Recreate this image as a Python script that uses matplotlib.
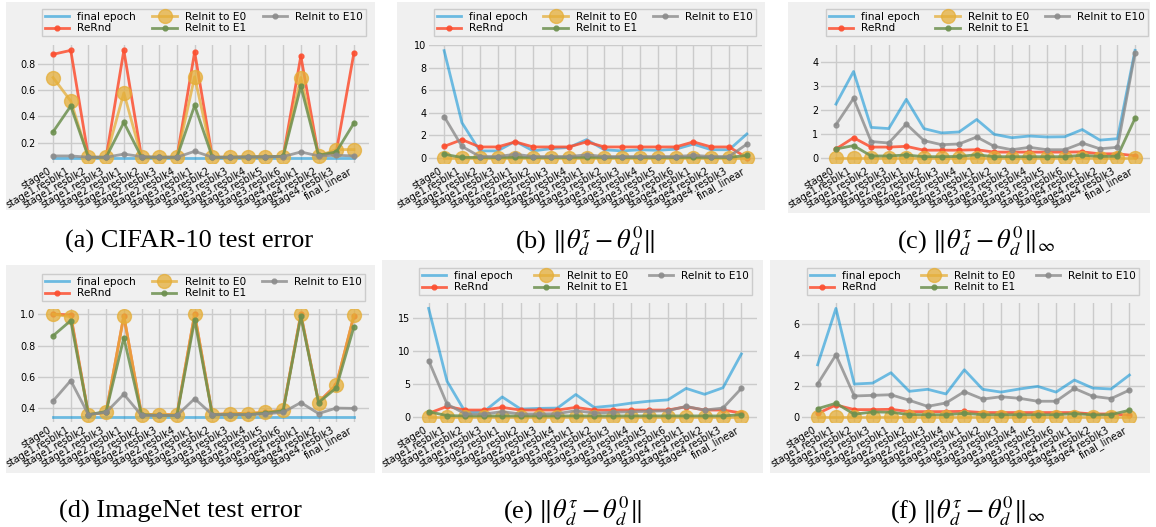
import matplotlib
matplotlib.use("Agg")
import matplotlib.pyplot as plt
from matplotlib.patches import Rectangle

W, H = 1156, 527

layers = ["stage0", "stage1.resblk1", "stage1.resblk2", "stage1.resblk3",
          "stage2.resblk1", "stage2.resblk2", "stage2.resblk3", "stage2.resblk4",
          "stage3.resblk1", "stage3.resblk2", "stage3.resblk3", "stage3.resblk4",
          "stage3.resblk5", "stage3.resblk6", "stage4.resblk1", "stage4.resblk2",
          "stage4.resblk3", "final_linear"]

# (a) CIFAR-10 test error
a_final = [0.087] * 18
a_rernd = [0.87, 0.90, 0.09, 0.09, 0.90, 0.09, 0.09, 0.09, 0.888, 0.09,
           0.09, 0.092, 0.093, 0.095, 0.857, 0.10, 0.13, 0.882]
a_e0 = [0.694, 0.516, 0.089, 0.089, 0.578, 0.09, 0.09, 0.09, 0.70, 0.09,
        0.09, 0.092, 0.093, 0.095, 0.694, 0.10, 0.148, 0.148]
a_e1 = [0.282, 0.478, 0.09, 0.09, 0.354, 0.09, 0.09, 0.09, 0.483, 0.09,
        0.09, 0.092, 0.093, 0.097, 0.627, 0.105, 0.13, 0.349]
a_e10 = [0.10, 0.10, 0.09, 0.09, 0.114, 0.095, 0.09, 0.09, 0.135, 0.09,
         0.09, 0.092, 0.093, 0.095, 0.13, 0.10, 0.105, 0.10]

# (b) ||theta - theta0||
b_final = [9.5, 3.1, 0.6, 0.6, 1.45, 0.6, 0.8, 0.9, 1.6, 0.7,
           0.6, 0.7, 0.65, 0.75, 1.2, 0.7, 0.7, 2.1]
b_rernd = [1.0, 1.6, 0.95, 0.95, 1.4, 0.95, 0.95, 0.95, 1.4, 0.95,
           0.95, 0.95, 0.95, 0.95, 1.4, 0.95, 0.95, 0.0]
b_e0 = [0.0] * 18
b_e1 = [0.3, 0.02, 0.02, 0.02, 0.03, 0.02, 0.02, 0.02, 0.03, 0.02,
        0.02, 0.02, 0.02, 0.02, 0.03, 0.02, 0.02, 0.2]
b_e10 = [3.65, 1.0, 0.1, 0.1, 0.3, 0.1, 0.1, 0.1, 0.25, 0.1,
         0.1, 0.1, 0.1, 0.1, 0.2, 0.1, 0.1, 1.2]

# (c) ||theta - theta0||_inf
c_final = [2.23, 3.59, 1.26, 1.21, 2.43, 1.21, 1.03, 1.07, 1.59, 0.97,
           0.83, 0.90, 0.86, 0.87, 1.17, 0.73, 0.79, 4.47]
c_rernd = [0.36, 0.83, 0.44, 0.44, 0.47, 0.31, 0.31, 0.31, 0.33, 0.23,
           0.23, 0.23, 0.23, 0.23, 0.24, 0.16, 0.16, 0.08]
c_e0 = [0.0] * 18
c_e1 = [0.36, 0.50, 0.07, 0.07, 0.11, 0.04, 0.04, 0.05, 0.12, 0.04,
        0.04, 0.04, 0.04, 0.04, 0.10, 0.05, 0.06, 1.64]
c_e10 = [1.37, 2.47, 0.67, 0.61, 1.40, 0.71, 0.54, 0.57, 0.86, 0.47,
         0.33, 0.43, 0.33, 0.33, 0.61, 0.37, 0.43, 4.36]

# (d) ImageNet test error
d_final = [0.346] * 18
d_rernd = [1.0, 0.995, 0.36, 0.375, 0.99, 0.36, 0.36, 0.36, 1.0, 0.36,
           0.367, 0.367, 0.375, 0.39, 1.0, 0.44, 0.55, 0.99]
d_e0 = [1.0, 0.983, 0.36, 0.375, 0.99, 0.36, 0.36, 0.36, 1.0, 0.36,
        0.367, 0.367, 0.375, 0.39, 1.0, 0.437, 0.546, 0.994]
d_e1 = [0.862, 0.959, 0.36, 0.38, 0.85, 0.36, 0.355, 0.355, 0.963, 0.36,
        0.36, 0.36, 0.37, 0.385, 0.986, 0.437, 0.53, 0.92]
d_e10 = [0.447, 0.577, 0.36, 0.375, 0.49, 0.355, 0.355, 0.355, 0.462, 0.36,
         0.36, 0.36, 0.365, 0.375, 0.437, 0.367, 0.402, 0.40]

# (e) ||theta - theta0||
e_final = [16.5, 5.4, 0.65, 0.75, 3.0, 1.15, 1.25, 1.3, 3.37, 1.4,
           1.65, 2.05, 2.35, 2.55, 4.3, 3.4, 4.4, 9.55]
e_rernd = [0.5, 1.55, 1.0, 1.0, 1.4, 1.0, 1.0, 1.0, 1.4, 1.0,
           1.0, 1.0, 1.0, 1.0, 1.5, 1.0, 1.0, 0.55]
e_e0 = [0.0] * 18
e_e1 = [0.75, 0.15, 0.1, 0.1, 0.1, 0.1, 0.1, 0.1, 0.1, 0.1,
        0.1, 0.1, 0.1, 0.1, 0.1, 0.1, 0.1, 0.3]
e_e10 = [8.55, 1.9, 0.4, 0.4, 0.75, 0.4, 0.4, 0.45, 0.9, 0.55,
         0.65, 0.75, 0.8, 0.9, 1.55, 1.0, 1.3, 4.3]

# (f) ||theta - theta0||_inf
f_final = [3.34, 6.98, 2.10, 2.16, 2.83, 1.63, 1.76, 1.46, 3.02, 1.76,
           1.58, 1.78, 1.95, 1.58, 2.36, 1.84, 1.78, 2.68]
f_rernd = [0.20, 0.75, 0.45, 0.45, 0.47, 0.32, 0.32, 0.32, 0.34, 0.26,
           0.26, 0.26, 0.26, 0.26, 0.26, 0.17, 0.17, 0.09]
f_e0 = [0.0] * 18
f_e1 = [0.51, 0.86, 0.15, 0.30, 0.28, 0.13, 0.12, 0.12, 0.21, 0.12,
        0.12, 0.12, 0.12, 0.12, 0.19, 0.11, 0.13, 0.41]
f_e10 = [2.10, 3.98, 1.33, 1.37, 1.41, 1.05, 0.66, 0.88, 1.61, 1.13,
         1.28, 1.18, 0.99, 0.99, 1.82, 1.31, 1.16, 1.71]

captions = ["(a) CIFAR-10 test error",
            r"(b) $\|\theta_d^\tau - \theta_d^0\|$",
            r"(c) $\|\theta_d^\tau - \theta_d^0\|_\infty$",
            "(d) ImageNet test error",
            r"(e) $\|\theta_d^\tau - \theta_d^0\|$",
            r"(f) $\|\theta_d^\tau - \theta_d^0\|_\infty$"]

yticks = [[0.2, 0.4, 0.6, 0.8], [0, 2, 4, 6, 8, 10], [0, 1, 2, 3, 4],
          [0.4, 0.6, 0.8, 1.0], [0, 5, 10, 15], [0, 2, 4, 6]]

panels = [
    (a_final, a_rernd, a_e0, a_e1, a_e10),
    (b_final, b_rernd, b_e0, b_e1, b_e10),
    (c_final, c_rernd, c_e0, c_e1, c_e10),
    (d_final, d_rernd, d_e0, d_e1, d_e10),
    (e_final, e_rernd, e_e0, e_e1, e_e10),
    (f_final, f_rernd, f_e0, f_e1, f_e10),
]

# pixel layout: background box, axes box, legend box, caption centre
bg_boxes = [(6, 2, 375, 210), (397, 2, 765, 210), (788, 2, 1150, 213),
            (6, 265, 375, 473), (382, 260, 763, 473), (770, 260, 1150, 473)]
ax_boxes = [(38, 45, 369, 163), (429, 45, 762, 163), (821, 45, 1150, 163),
            (38, 309, 369, 422), (413, 303, 757, 422), (802, 303, 1145, 422)]
leg_boxes = [(42, 7, 366, 36), (434, 7, 756, 36), (826, 7, 1148, 36),
             (42, 271, 365, 301), (419, 265, 752, 295), (807, 265, 1139, 295)]
cap_pos = [(189, 241), (585, 241), (976, 241),
           (180, 511), (572, 511), (968, 511)]

FS_TICK = 6.9
FS_LEG = 7.6

plt.rcParams["mathtext.fontset"] = "stix"

fig = plt.figure(figsize=(W / 100, H / 100), dpi=100, facecolor="white")


def fx(px):
    return px / W


def fy(py):
    return 1 - py / H


for i, data in enumerate(panels):
    x0, y0, x1, y1 = bg_boxes[i]
    fig.patches.append(Rectangle((fx(x0), fy(y1)), fx(x1 - x0), (y1 - y0) / H,
                                 transform=fig.transFigure, facecolor="#f0f0f0",
                                 edgecolor="none", zorder=-5))
    l, t, r, b = ax_boxes[i]
    ax = fig.add_axes([fx(l), fy(b), fx(r - l), (b - t) / H])
    ax.set_facecolor("#f0f0f0")
    for s in ax.spines.values():
        s.set_visible(False)
    ax.grid(True, color="#cbcbcb", linewidth=1.0)
    ax.set_axisbelow(True)

    final, rernd, e0, e1, e10 = data
    x = range(len(layers))
    ax.plot(x, final, color="#008fd5", alpha=0.55, lw=2.0, label="final epoch")
    ax.plot(x, rernd, color="#fc4f30", alpha=0.85, lw=2.0, marker="o",
            ms=3.5, label="ReRnd")
    ax.plot(x, e0, color="#e5ae38", alpha=0.75, lw=2.0, marker="o",
            ms=10, label="ReInit to E0")
    ax.plot(x, e1, color="#6d904f", alpha=0.85, lw=2.0, marker="o",
            ms=3.5, label="ReInit to E1")
    ax.plot(x, e10, color="#8b8b8b", alpha=0.8, lw=2.0, marker="o",
            ms=3.5, label="ReInit to E10")

    ax.set_xticks(list(x))
    ax.set_xticklabels(layers, rotation=30, ha="right", fontsize=FS_TICK)
    ax.set_yticks(yticks[i])
    ax.tick_params(axis="both", length=0, labelsize=FS_TICK, pad=2)

    ll, lt, lr, lb = leg_boxes[i]
    ax.legend(loc="lower left", ncol=3, mode="expand", fontsize=FS_LEG,
              bbox_to_anchor=(fx(ll), fy(lb), fx(lr - ll), (lb - lt) / H),
              bbox_transform=fig.transFigure, borderaxespad=0,
              facecolor="#f0f0f0", edgecolor="#cccccc", framealpha=1,
              fancybox=False, labelspacing=0.15, borderpad=0.25,
              handlelength=2.3)

    cx, cy = cap_pos[i]
    fig.text(fx(cx), fy(cy), captions[i], ha="center", va="center",
             fontsize=19, family="Liberation Serif")

fig.savefig("out.png", dpi=100, facecolor="white")
